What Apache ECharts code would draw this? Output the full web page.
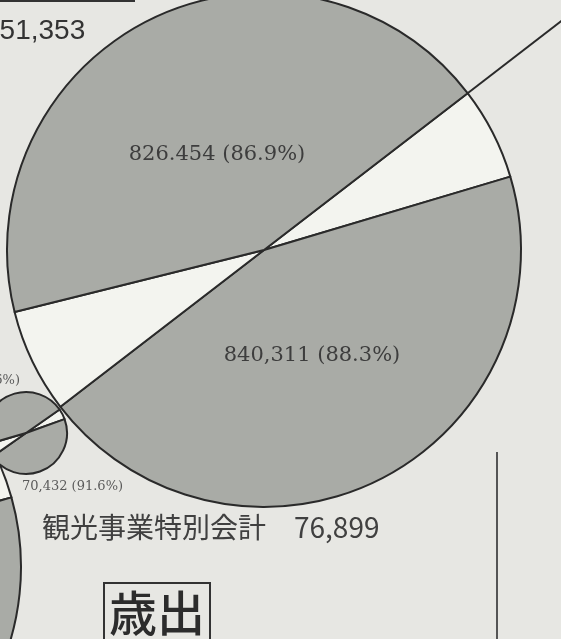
<!DOCTYPE html>
<html><head><meta charset="utf-8">
<script src="https://cdn.jsdelivr.net/npm/echarts@6/dist/echarts.min.js"></script>
<style>html,body{margin:0;padding:0;background:#e7e7e3;}#c{width:561px;height:639px;}</style>
</head><body><div id="c"></div>
<script>
// ---- data ----
const bigTotal = 951353;
const bigCategories = ['その他(右)', '一般会計(下)', 'その他(左)', '一般会計(上)'];
const bigValues = [111042, 840311, 124899, 826454];
const bigLabels = ['', '840,311 (88.3%)', '', '826.454 (86.9%)'];

const smallTotal = 76899;
const smallCategories = ['その他(右)', '観光事業(下)', 'その他(左)', '観光事業(上)'];
const smallValues = [6467, 70432, 8000, 68899];
const smallLabels = ['', '70,432 (91.6%)', '', '68,899 (89.6%)'];

const thirdCategories = ['その他(右)', '下', 'その他(左)', '上'];
const thirdValues = [116000, 835353, 125000, 826353];

const captionText = '観光事業特別会計　76,899';
const topTotalText = '951,353';
const headingText = '歳出';

// ---- layout / style ----
const W = 561, H = 639;
const GRAY = '#a9aba6', LIGHT = '#f3f4ef', EDGE = '#2a2a2a';
const big = {cx: 264, cy: 250, r: 257, start: 37.6};
const small = {cx: 26, cy: 433, r: 41, start: 35};
const third = {cx: -237, cy: 567, r: 258, start: 37.6};

const labelPos = {
  0: {1: {x: 312, y: 356, align: 'center'}, 3: {x: 217, y: 155, align: 'center'}},
  1: {1: {x: 22, y: 487, align: 'left'}, 3: {x: 20, y: 381, align: 'right'}}
};

function makeData(cats, vals, labels) {
  return cats.map((c, i) => ({
    name: c, value: vals[i],
    itemStyle: {color: i % 2 === 1 ? GRAY : LIGHT},
    label: {show: !!(labels && labels[i]), formatter: labels ? labels[i] : ''}
  }));
}
function pieSeries(geo, data, fontSize, color) {
  return {
    type: 'pie', silent: true, animation: false,
    center: [geo.cx, geo.cy], radius: geo.r,
    startAngle: geo.start, clockwise: true,
    avoidLabelOverlap: false, minAngle: 0,
    itemStyle: {borderColor: EDGE, borderWidth: 2},
    label: {position: 'inside', fontFamily: 'DejaVu Serif', fontSize: fontSize, color: color},
    labelLine: {show: false},
    emphasis: {disabled: true},
    data: data
  };
}

const chart = echarts.init(document.getElementById('c'), null, {renderer: 'canvas'});
const a = big.start * Math.PI / 180;
const ex = big.cx + big.r * Math.cos(a), ey = big.cy - big.r * Math.sin(a);
const fx = big.cx + 460 * Math.cos(a), fy = big.cy - 460 * Math.sin(a);

const s0 = pieSeries(big, makeData(bigCategories, bigValues, bigLabels), 21, '#3d3d3d');
s0.labelLayout = p => labelPos[0][p.dataIndex] ? Object.assign({verticalAlign: 'middle'}, labelPos[0][p.dataIndex]) : {};
const s1 = pieSeries(small, makeData(smallCategories, smallValues, smallLabels), 13, '#5a5a5a');
s1.labelLayout = p => labelPos[1][p.dataIndex] ? Object.assign({verticalAlign: 'middle'}, labelPos[1][p.dataIndex]) : {};
const s2 = pieSeries(third, makeData(thirdCategories, thirdValues, null), 12, '#444');

chart.setOption({
  backgroundColor: '#e7e7e3',
  animation: false,
  series: [s2, s0, s1],
  graphic: [
    {type: 'line', shape: {x1: ex, y1: ey, x2: fx, y2: fy}, style: {stroke: EDGE, lineWidth: 2}, z: 10},
    {type: 'line', shape: {x1: 0, y1: 1, x2: 135, y2: 1}, style: {stroke: '#333', lineWidth: 2}, z: 10},
    {type: 'text', x: -16, y: 31, style: {text: topTotalText, font: '28px "Liberation Sans"', fill: '#333', verticalAlign: 'middle'}, z: 10},
    {type: 'text', x: 42, y: 527, style: {text: captionText, font: '28px "Noto Sans CJK JP"', fill: '#404040', verticalAlign: 'middle'}, z: 10},
    {type: 'rect', shape: {x: 104, y: 583, width: 106, height: 80}, style: {fill: 'none', stroke: '#333', lineWidth: 2}, z: 10},
    {type: 'text', x: 157, y: 589, style: {text: headingText, font: '500 48px "Noto Sans CJK JP"', fill: '#2c2c2c', align: 'center', verticalAlign: 'top'}, z: 10},
    {type: 'line', shape: {x1: 497, y1: 452, x2: 497, y2: H}, style: {stroke: '#555', lineWidth: 2}, z: 10}
  ]
});
</script></body></html>
